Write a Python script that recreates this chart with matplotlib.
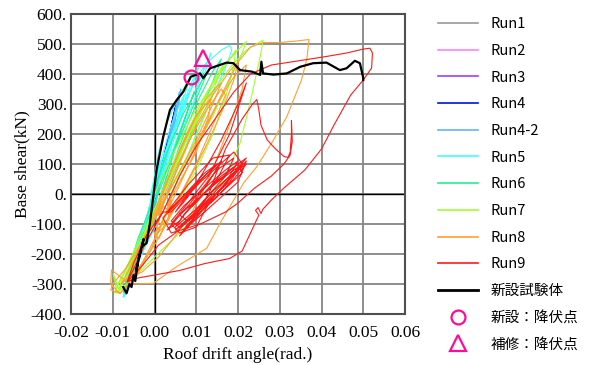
import numpy as np
import matplotlib
matplotlib.use("Agg")
import matplotlib.pyplot as plt
from matplotlib.lines import Line2D
from matplotlib.ticker import FuncFormatter

# drift angle (rad.) / base shear (kN)
run1_x = [0, 0.0006, 0.0012, 0.0005, -0.0004, -0.0010, -0.0004, 0.0005, 0.0013, 0.0006, -0.0006, -0.0012, 0]
run1_y = [0, 30, 70, 40, -20, -60, -30, 20, 80, 45, -40, -80, 0]

run2_x = [0, 0.0010, 0.0022, 0.0015, 0.0002, -0.0015, -0.0028, -0.0018, 0.0000, 0.0018, 0.0026, 0.0012, -0.0010, -0.0030, -0.0020, 0.0005]
run2_y = [0, 50, 120, 80, 0, -90, -170, -120, -20, 90, 140, 60, -60, -180, -130, -10]

run3_x = [0, 0.0015, 0.0028, 0.0031, 0.0018, 0.0000, -0.0022, -0.0040, -0.0030, -0.0010, 0.0012, 0.0027, 0.0030, 0.0015, -0.0008, -0.0035, -0.0042, -0.0025, 0]
run3_y = [0, 80, 150, 175, 100, 10, -100, -210, -170, -70, 50, 140, 165, 80, -40, -190, -225, -130, 0]

run4_x = [0, 0.0015, 0.0030, 0.0042, 0.0050, 0.0046, 0.0030, 0.0010, -0.0015, -0.0040, -0.0052, -0.0045, -0.0025, 0.0000,
          0.0022, 0.0038, 0.0046, 0.0052, 0.0040, 0.0020, -0.0005, -0.0030, -0.0050, -0.0055, -0.0040, -0.0015, 0.0010,
          0.0030, 0.0045, 0.0038, 0.0015, -0.0010]
run4_y = [0, 70, 160, 240, 290, 250, 150, 40, -80, -200, -265, -240, -150, -30,
          90, 190, 250, 300, 230, 110, -20, -140, -240, -275, -220, -110, 20,
          140, 240, 200, 80, -40]

run42_x = [0, 0.0018, 0.0035, 0.0050, 0.0060, 0.0055, 0.0038, 0.0015, -0.0012, -0.0040, -0.0058, -0.0062, -0.0045, -0.0020,
           0.0005, 0.0028, 0.0048, 0.0063, 0.0058, 0.0036, 0.0010, -0.0020, -0.0048, -0.0060, -0.0050, -0.0025, 0.0000,
           0.0020, 0.0040, 0.0056, 0.0050, 0.0030, 0.0005, -0.0025, -0.0052, -0.0064, -0.0048, -0.0022, 0.0002]
run42_y = [0, 90, 190, 280, 340, 300, 190, 60, -80, -210, -290, -305, -250, -140,
           -20, 110, 230, 350, 300, 180, 40, -110, -240, -290, -260, -160, -40,
           80, 200, 320, 260, 140, 10, -130, -260, -310, -240, -120, 10]

run5_x = [-0.001, 0.002, 0.005, 0.008, 0.010, 0.0105, 0.009, 0.006, 0.003, 0.000, -0.003, -0.006, -0.0072, -0.0065, -0.004,
          -0.0015, -0.0003, 0.001, 0.003, 0.006, 0.008, 0.0085, 0.007, 0.004, 0.001, -0.002, -0.005, -0.0070,
          -0.0062, -0.003, -0.001, 0.002, 0.006, 0.010, 0.013, 0.0135, 0.012, 0.009, 0.005, 0.001, -0.003, -0.0065,
          -0.0075, -0.0068, -0.004, -0.0015, 0.000, 0.004, 0.008, 0.012, 0.016, 0.018, 0.0185, 0.017, 0.014, 0.010,
          0.006, 0.002, -0.002, -0.005, -0.007, -0.0072, -0.0058, -0.0035, -0.0012, 0.0008, 0.004, 0.007, 0.0065,
          0.004, 0.001]
run5_y = [0, 120, 230, 340, 410, 420, 360, 240, 110, -10, -130, -260, -330, -310, -230,
          -100, 40, 140, 240, 330, 375, 385, 320, 190, 60, -80, -210, -320,
          -290, -150, -40, 60, 190, 330, 440, 470, 420, 320, 170, 20, -120, -270,
          -345, -330, -240, -110, 30, 180, 330, 430, 480, 495, 480, 420, 330, 200,
          60, -60, -170, -260, -320, -340, -280, -170, -40, 80, 230, 330, 300,
          170, 40]

run6_x = [0.000, 0.003, 0.007, 0.011, 0.0125, 0.011, 0.008, 0.004, 0.000, -0.004, -0.0068, -0.0072, -0.005, -0.002, 0.002,
          0.006, 0.010, 0.014, 0.016, 0.0155, 0.013, 0.009, 0.005, 0.001, -0.003, -0.006, -0.0075, -0.006, -0.003, 0.000,
          0.003, 0.006, 0.009, 0.0095, 0.008, 0.005, 0.002, -0.002, -0.0055, -0.0068, -0.004, -0.001, 0.003]
run6_y = [20, 140, 270, 370, 400, 350, 250, 120, -10, -150, -280, -320, -260, -150, 0,
          160, 300, 410, 450, 430, 340, 210, 70, -60, -180, -280, -330, -290, -190, -80,
          60, 200, 320, 340, 280, 160, 40, -100, -240, -300, -220, -100, 60]

run7_x = [0.000, 0.004, 0.009, 0.014, 0.018, 0.021, 0.022, 0.021, 0.018, 0.014, 0.009, 0.004, 0.000, -0.004, -0.008,
          -0.0095, -0.0088, -0.006, -0.002, 0.003, 0.008, 0.012, 0.0125, 0.011, 0.008, 0.004, 0.000, -0.004, -0.0075,
          -0.0085, -0.006, -0.002, 0.003, 0.008, 0.013, 0.018, 0.022, 0.025, 0.026, 0.0255, 0.023, 0.0205,
          0.017, 0.012, 0.006, 0.000, -0.005, -0.009, -0.0099, -0.0085, -0.006, -0.003, 0.001, 0.005, 0.010, 0.015,
          0.0165, 0.015, 0.012, 0.008, 0.004, 0.000, -0.004, -0.007, -0.005, -0.001, 0.004, 0.009, 0.014, 0.018,
          0.0195, 0.019, 0.017, 0.014, 0.010, 0.006, 0.002]
run7_y = [0, 120, 260, 370, 450, 495, 508, 470, 380, 260, 140, 20, -80, -180, -280,
          -330, -300, -230, -120, 40, 190, 310, 330, 270, 170, 60, -50, -160, -270,
          -320, -260, -130, 30, 190, 320, 420, 480, 505, 513, 470, 310, 170,
          60, -40, -130, -210, -280, -330, -264, -320, -250, -150, -20, 120, 270, 400,
          430, 380, 260, 130, 20, -80, -180, -270, -220, -90, 70, 230, 360, 450,
          480, 430, 320, 200, 80, -20, -110]

run8_x = [-0.002, 0.001, 0.004, 0.008, 0.012, 0.015, 0.016, 0.014, 0.010, 0.005, 0.001, -0.003, -0.007, -0.0100, -0.0105,
          -0.0083, -0.005, -0.001, 0.003, 0.008, 0.012, 0.016, 0.020, 0.023, 0.026, 0.030, 0.034, 0.037, 0.0365, 0.0352,
          0.0317, 0.0285, 0.0245, 0.0213, 0.019, 0.016, 0.0125, 0.0053, -0.0003, -0.006, -0.0103, -0.0105, -0.0083,
          -0.004, 0.000, 0.004, 0.003, 0.000, 0.002, 0.004, 0.001, -0.001, 0.003, 0.0035, 0.0005, 0.002, 0.004, 0.001,
          0.0025, 0.006, 0.010, 0.014, 0.018, 0.020, 0.019, 0.016, 0.012, 0.008, 0.004, 0.000, -0.004, -0.008,
          -0.006, -0.002, 0.002, 0.006, 0.010, 0.0135, 0.013, 0.010, 0.006, 0.003, 0.006, 0.010, 0.015, 0.019,
          0.022, 0.021, 0.018, 0.015, 0.012, 0.009, 0.005, 0.001, -0.003, -0.006, -0.004, 0.000, 0.004, 0.008,
          0.012, 0.016, 0.017, 0.014, 0.010, 0.004]
run8_y = [-150, -40, 80, 210, 310, 360, 370, 300, 180, 50, -60, -160, -250, -300, -320,
          -331, -290, -190, -60, 90, 210, 330, 440, 490, 505, 505, 510, 515, 450, 380,
          258, 180, 91, 36, -20, -90, -181, -242, -298, -300, -253, -300, -331,
          -260, -150, -20, -100, -140, -40, -60, -150, -110, 0, -80, -120, -30, 30, -70,
          -20, 100, 230, 330, 410, 440, 380, 270, 150, 40, -70, -170, -250, -300,
          -250, -130, 10, 140, 260, 320, 260, 140, 40, -40, 60, 170, 300, 390,
          430, 350, 230, 120, 20, -60, -140, -210, -260, -280, -200, -80, 50, 170,
          270, 350, 330, 230, 100, -60]

run9_x = [-0.0065, -0.005, -0.002, 0.002, 0.004, 0.012, 0.016, 0.013, 0.006, 0.003, 0.008, 0.015, 0.019, 0.017, 0.010,
          0.005, 0.007, 0.014, 0.020, 0.021, 0.014, 0.008, 0.006, 0.010, 0.016, 0.022, 0.020, 0.012, 0.007, 0.009,
          0.013, 0.017, 0.021, 0.0235, 0.0245, 0.025, 0.0255, 0.027, 0.029, 0.031, 0.032, 0.0325, 0.0328, 0.0328,
          0.0330, 0.0325, 0.031, 0.028, 0.024, 0.020, 0.017, 0.011, 0.004, 0.002, 0.009, 0.015, 0.012, 0.006,
          0.003, 0.008, 0.014, 0.018, 0.015, 0.009, 0.011, 0.016, 0.022, 0.019, 0.013, 0.010, 0.006, 0.004,
          0.008, 0.013, 0.018, 0.022, 0.020, 0.016, 0.012, 0.008, 0.005, 0.007, 0.011, 0.015, 0.019, 0.021,
          0.018, 0.013, 0.009, 0.006, 0.004, 0.007, 0.012, 0.017, 0.020, 0.018, 0.014, 0.010, 0.007, 0.005,
          0.009, 0.014, 0.019, 0.022, 0.019, 0.015, 0.011, 0.008, 0.006, 0.010, 0.016, 0.020, 0.017, 0.012,
          0.008, 0.005, 0.001, -0.003, -0.0065,
          -0.005, -0.002, 0.002, 0.006, 0.010, 0.015, 0.019, 0.023, 0.028, 0.035, 0.041, 0.046, 0.050, 0.0516,
          0.0522, 0.052, 0.050, 0.047, 0.043, 0.040, 0.036, 0.031, 0.028, 0.026, 0.0255, 0.0248, 0.0242, 0.025,
          0.023, 0.021, 0.018, 0.012, 0.006, 0.000, -0.004, -0.0065]
run9_y = [-292, -230, -140, -60, -60, 60, 110, 40, -90, -120, -40, 80, 120, 60, -50,
          -110, -70, 30, 100, 70, -20, -100, -140, -80, 20, 110, 40, -60, -120, -90,
          0, 150, 250, 300, 315, 280, 230, 180, 150, 125, 122, 140, 200, 245,
          175, 130, 100, 60, 20, -30, -60, -100, -130, -80, 20, 100, 70, -20,
          -60, 30, 120, 130, 50, -40, -10, 60, 120, 70, -30, -110, -130, -100,
          -30, 60, 200, 370, 300, 180, 80, -10, -60, -20, 40, 90, 140, 100,
          40, -20, -80, -110, -90, -40, 20, 80, 110, 60, 0, -60, -100, -120,
          -70, 10, 70, 100, 50, -10, -60, -90, -70, -20, 50, 90, 30, -40,
          -90, -130, -170, -240, -292,
          -250, -160, -60, 60, 160, 260, 340, 400, 430, 445, 458, 470, 483, 486,
          470, 420, 380, 330, 230, 150, 80, 20, -20, -50, -65, -45, -55, -70,
          -130, -190, -215, -232, -255, -270, -280, -292]

base_x = [-0.0075, -0.0067, -0.0060, -0.0055, -0.0050, -0.0046, -0.0040, -0.0044, -0.0033, -0.0038, -0.0026, -0.0030,
          -0.0019, -0.0011, -0.0003, 0.0005, 0.0013, 0.0021, 0.0029, 0.0037, 0.0053, 0.0069, 0.0087, 0.0109, 0.0117,
          0.0133, 0.0173, 0.0189, 0.0205, 0.0233, 0.0253, 0.0256, 0.0260, 0.0285, 0.0317, 0.0349, 0.0380, 0.0412,
          0.0444, 0.0460, 0.0480, 0.0492, 0.0500, 0.0500]
base_y = [-310, -331, -300, -310, -270, -290, -230, -255, -190, -215, -150, -175,
          -164, -98, -9, 80, 136, 191, 236, 280, 313, 341, 391, 402, 386,
          419, 438, 436, 413, 408, 397, 441, 402, 398, 402, 424, 436, 438,
          413, 419, 444, 436, 387, 380]

yield_new = (0.0087, 391)
yield_rep = (0.0116, 452)

runs = [
    ("Run1", run1_x, run1_y, "#9a9a9a"),
    ("Run2", run2_x, run2_y, "#ff80ff"),
    ("Run3", run3_x, run3_y, "#a040ff"),
    ("Run4", run4_x, run4_y, "#0010e0"),
    ("Run4-2", run42_x, run42_y, "#60b4ff"),
    ("Run5", run5_x, run5_y, "#40ffff"),
    ("Run6", run6_x, run6_y, "#20f090"),
    ("Run7", run7_x, run7_y, "#a0ff30"),
    ("Run8", run8_x, run8_y, "#ffa030"),
    ("Run9", run9_x, run9_y, "#ff1a1a"),
]

fig = plt.figure(figsize=(5.93, 3.65), dpi=100)
ax = fig.add_axes([71 / 593, 1 - 314 / 365, 334 / 593, 300 / 365])

for name, xs, ys, c in runs:
    ax.plot(xs, ys, color=c, lw=0.8, label=name)
ax.plot(base_x, base_y, color="black", lw=1.6, label="新設試験体", zorder=5)
ax.plot(*yield_new, marker="o", ms=10, mfc="none", mec="#ff0a9a", mew=1.6, ls="none", zorder=6)
ax.plot(*yield_rep, marker="^", ms=11, mfc="none", mec="#ff0a9a", mew=1.6, ls="none", zorder=6)

ax.set_xlim(-0.02, 0.06)
ax.set_ylim(-400, 600)
ax.set_xticks(np.arange(-0.02, 0.0601, 0.01))
ax.set_yticks(np.arange(-400, 601, 100))
ax.xaxis.set_major_formatter(FuncFormatter(lambda v, p: f"{v:.2f}"))
ax.yaxis.set_major_formatter(FuncFormatter(lambda v, p: f"{int(round(v))}."))
ax.grid(color="#858585", lw=1.3, zorder=0)
ax.set_axisbelow(True)
ax.axhline(0, color="black", lw=1.0, zorder=1)
ax.axvline(0, color="black", lw=1.0, zorder=1)
for s in ax.spines.values():
    s.set_color("#505050")
    s.set_linewidth(1.5)
ax.tick_params(length=0)
ax.tick_params(axis="x", pad=8)
ax.tick_params(axis="y", pad=3)
for lab in ax.get_xticklabels() + ax.get_yticklabels():
    lab.set_fontfamily("Liberation Serif")
    lab.set_fontsize(12.5)
ax.set_xlabel("Roof drift angle(rad.)", family="Liberation Serif", fontsize=12.5, labelpad=4)
ax.set_ylabel("Base shear(kN)", family="Liberation Serif", fontsize=12.5, labelpad=0)

handles = [Line2D([], [], color=c, lw=1.2) for _, _, _, c in runs]
handles.append(Line2D([], [], color="black", lw=2))
handles.append(Line2D([], [], marker="o", ms=10, mfc="none", mec="#ff0a9a", mew=1.6, ls="none"))
handles.append(Line2D([], [], marker="^", ms=11, mfc="none", mec="#ff0a9a", mew=1.6, ls="none"))
labels = [r[0] for r in runs] + ["新設試験体", "新設：降伏点", "補修：降伏点"]
fig.legend(handles, labels, loc="upper left", bbox_to_anchor=(425 / 593, 1 - 4 / 365),
           frameon=False, handlelength=2.75, handletextpad=0.85, labelspacing=0.87,
           prop={"family": ["Noto Sans CJK JP", "DejaVu Sans"], "size": 10.5})

fig.savefig("out.png", dpi=100)
